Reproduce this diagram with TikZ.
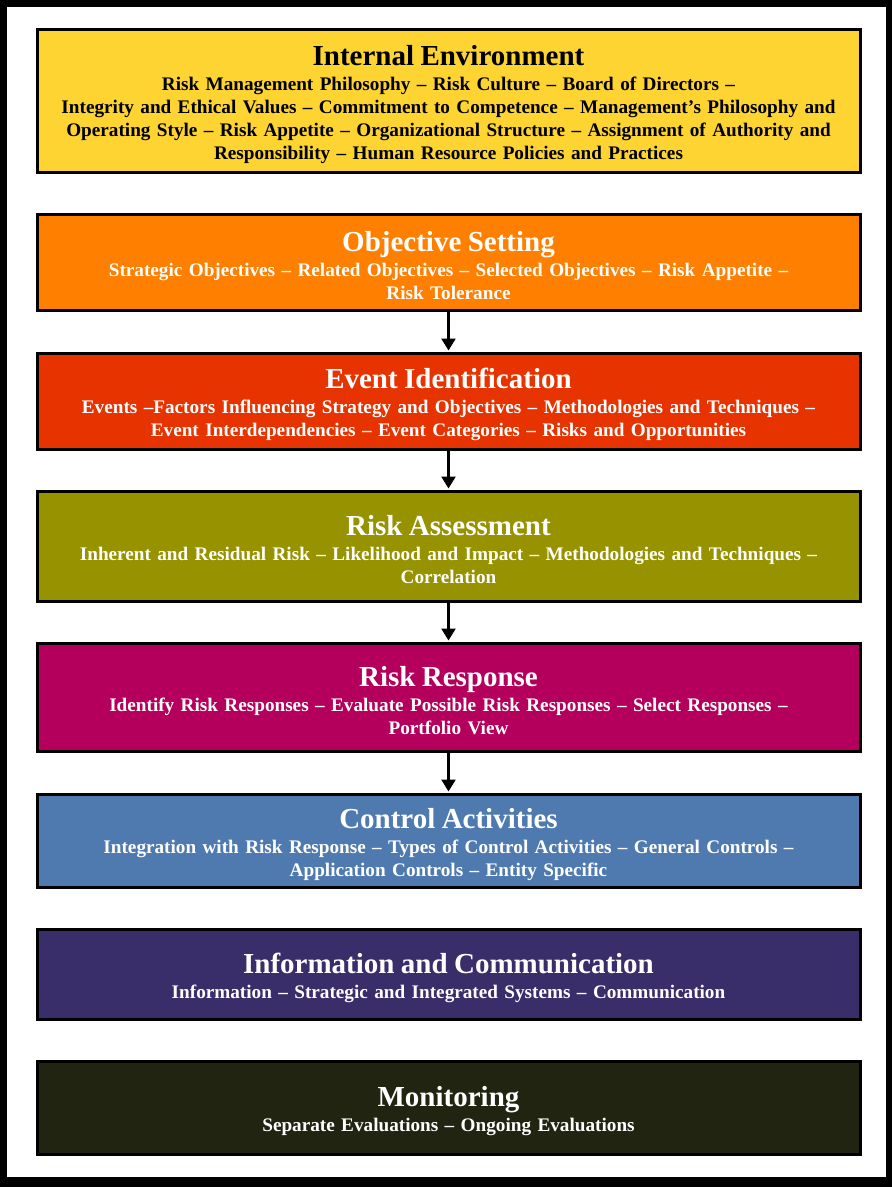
\documentclass[tikz,border=0pt]{standalone}
\usepackage{fontspec}
\setmainfont{Liberation Serif}
\usetikzlibrary{arrows.meta}
\definecolor{cYellow}{HTML}{FDD432}
\definecolor{cOrange}{HTML}{FF7F00}
\definecolor{cRed}{HTML}{E63300}
\definecolor{cOlive}{HTML}{969200}
\definecolor{cMagenta}{HTML}{B4005C}
\definecolor{cBlue}{HTML}{4F7AB0}
\definecolor{cPurple}{HTML}{3A2E6A}
\definecolor{cDark}{HTML}{222412}
\newcommand{\boxtitle}[1]{{\fontsize{29}{31}\selectfont\rule{0pt}{28pt}#1}\\[2pt]}
\tikzset{
  compbox/.style={draw=black, line width=3pt, minimum width=823pt, text width=815pt,
    align=center, inner sep=0pt, font=\bfseries\fontsize{19.2}{23}\selectfont, text=white},
  flowarrow/.style={-{Triangle[length=12pt,width=14pt]}, line width=2.5pt, black, shorten >=1pt},
}
\begin{document}
\begin{tikzpicture}[x=1pt,y=-1pt]
\useasboundingbox (0,0) rectangle (892,1187);
\fill[black] (0,0) rectangle (892,1187);
\fill[white] (7,7) rectangle (886,1177);

\node[compbox, fill=cYellow, text=black, minimum height=143pt] (ie) at (448.5,100.5)
 {\boxtitle{Internal Environment}Risk Management Philosophy -- Risk Culture -- Board of Directors --\\
 Integrity and Ethical Values -- Commitment to Competence -- Management's Philosophy and\\
 Operating Style -- Risk Appetite -- Organizational Structure -- Assignment of Authority and\\
 Responsibility -- Human Resource Policies and Practices};

\node[compbox, fill=cOrange, minimum height=96pt] (os) at (448.5,262)
 {\boxtitle{Objective Setting}Strategic Objectives -- Related Objectives -- Selected Objectives -- Risk Appetite --\\
 Risk Tolerance};

\node[compbox, fill=cRed, minimum height=96pt] (ei) at (448.5,401)
 {\boxtitle{Event Identification}Events --Factors Influencing Strategy and Objectives -- Methodologies and Techniques --\\
 Event Interdependencies -- Event Categories -- Risks and Opportunities};

\node[compbox, fill=cOlive, minimum height=110pt] (ra) at (448.5,546)
 {\boxtitle{Risk Assessment}Inherent and Residual Risk -- Likelihood and Impact -- Methodologies and Techniques --\\
 Correlation};

\node[compbox, fill=cMagenta, minimum height=108pt] (rr) at (448.5,697)
 {\boxtitle{Risk Response}Identify Risk Responses -- Evaluate Possible Risk Responses -- Select Responses --\\
 Portfolio View};

\node[compbox, fill=cBlue, minimum height=93pt] (ca) at (448.5,840.5)
 {\boxtitle{Control Activities}Integration with Risk Response -- Types of Control Activities -- General Controls --\\
 Application Controls -- Entity Specific};

\node[compbox, fill=cPurple, minimum height=90pt] (ic) at (448.5,974)
 {\boxtitle{Information and Communication}Information -- Strategic and Integrated Systems -- Communication};

\node[compbox, fill=cDark, minimum height=93pt] (mo) at (448.5,1107.5)
 {\boxtitle{Monitoring}Separate Evaluations -- Ongoing Evaluations};

\draw[flowarrow] (os.south) -- (ei.north);
\draw[flowarrow] (ei.south) -- (ra.north);
\draw[flowarrow] (ra.south) -- (rr.north);
\draw[flowarrow] (rr.south) -- (ca.north);
\end{tikzpicture}
\end{document}
